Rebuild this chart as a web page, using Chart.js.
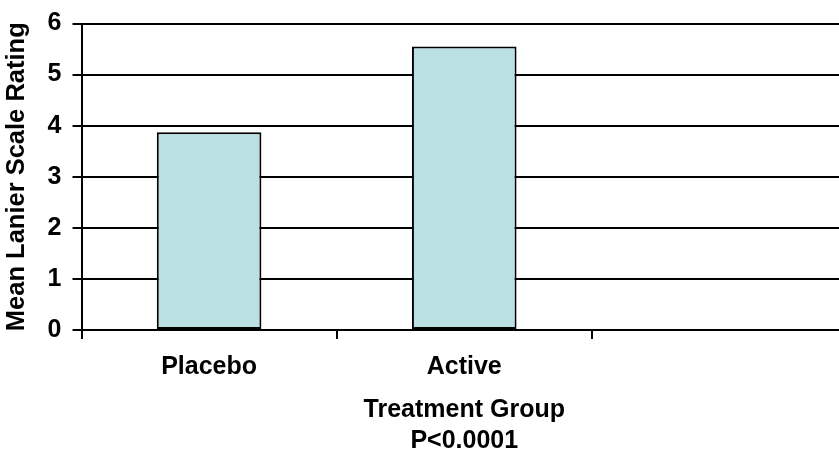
<!DOCTYPE html>
<html>
<head>
<meta charset="utf-8">
<script src="https://cdn.jsdelivr.net/npm/chart.js@4"></script>
<style>
  html, body { margin: 0; padding: 0; background: #fff; overflow: hidden; }
  #wrap { position: relative; width: 856px; height: 457px; }
</style>
</head>
<body>
<div id="wrap"><canvas id="barChart"></canvas></div>
<script>
var groups = ['Placebo', 'Active', ''];
var meanRating = [3.87, 5.55, null];
var yTicks = [0, 1, 2, 3, 4, 5, 6];

var family = 'Liberation Sans, Arial, sans-serif';
var font = { family: family, size: 25, weight: 'bold', lineHeight: 1.2 };

var ctxBar = document.getElementById('barChart').getContext('2d');
var barChart = new Chart(ctxBar, {
    type: 'bar',
    data: {
        labels: groups,
        datasets: [{
            label: 'Mean Lanier Scale Rating',
            data: meanRating,
            backgroundColor: '#BBE0E3',
            borderColor: '#000',
            borderWidth: 2,
            borderSkipped: false,
            categoryPercentage: 1,
            barPercentage: 0.41,
        }]
    },
    options: {
        responsive: true,
        maintainAspectRatio: false,
        animation: false,
        layout: { padding: { top: 19, right: 9, left: 2, bottom: 0 } },
        plugins: {
            legend: { display: false },
            tooltip: { enabled: false },
        },
        scales: {
            x: {
                offset: true,
                afterFit: function (scale) { scale.height = 127; },
                grid: { offset: true, drawOnChartArea: false, color: '#000', lineWidth: 2, tickLength: 9 },
                border: { color: '#000', width: 2 },
                ticks: { color: '#000', font: font, padding: 13, maxRotation: 0 },
                title: {
                    display: true,
                    text: ['Treatment Group', 'P<0.0001'],
                    color: '#000',
                    font: { family: family, size: 25, weight: 'bold', lineHeight: 1.25 },
                    padding: { top: 12, bottom: 0 },
                },
            },
            y: {
                min: 0,
                max: 6,
                afterBuildTicks: function (axis) {
                    axis.ticks = yTicks.map(function (v) { return { value: v }; });
                },
                grid: { color: '#000', lineWidth: 2, tickLength: 9 },
                border: { color: '#000', width: 2 },
                ticks: { color: '#000', font: { family: family, size: 25, weight: 'bold', lineHeight: 1.0 }, padding: 11 },
                title: {
                    display: true,
                    text: 'Mean Lanier Scale Rating',
                    color: '#000',
                    font: { family: family, size: 25.5, weight: 'bold', lineHeight: 1.2 },
                    padding: { top: 0, bottom: 4 },
                },
            },
        },
    }
});
</script>
</body>
</html>
